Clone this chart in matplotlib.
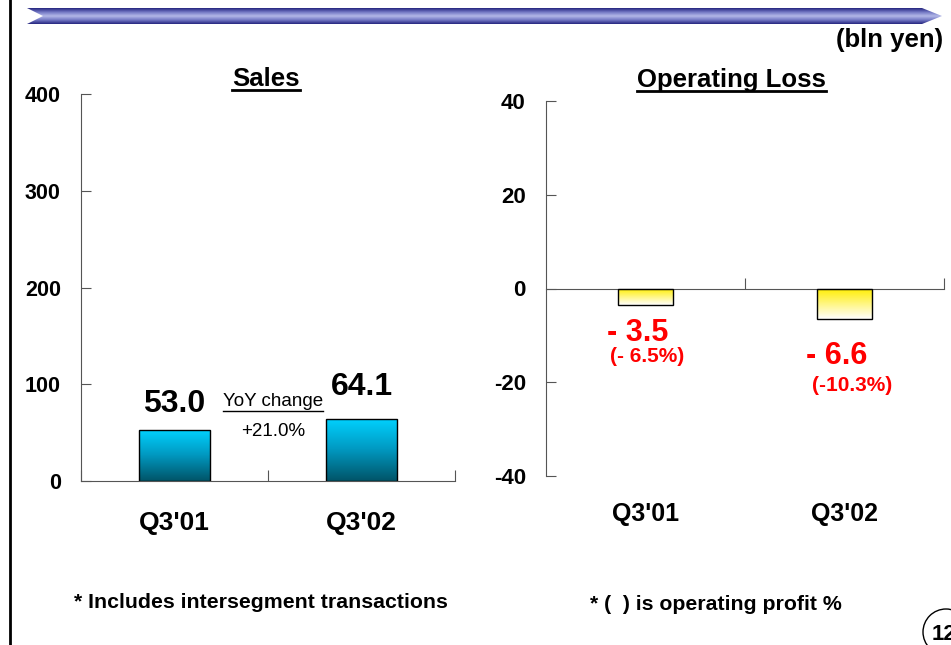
import numpy as np
import matplotlib.pyplot as plt
from matplotlib.patches import Polygon, Ellipse
from matplotlib.colors import LinearSegmentedColormap

plt.rcParams['font.family'] = ['Liberation Sans', 'DejaVu Sans']
plt.rcParams['axes.unicode_minus'] = False

# data
quarters = ["Q3'01", "Q3'02"]
sales = [53.0, 64.1]
sales_labels = ["53.0", "64.1"]
loss = [-3.5, -6.6]
loss_labels = ["- 3.5", "- 6.6"]
loss_pct = ["(- 6.5%)", "(-10.3%)"]
sales_ticks = [0, 100, 200, 300, 400]
loss_ticks = [-40, -20, 0, 20, 40]
yoy = "+21.0%"

W, H = 951, 645
fig = plt.figure(figsize=(W / 100, H / 100), dpi=100)

# background layer in pixel coords for decoration
bg = fig.add_axes([0, 0, 1, 1])
bg.set_xlim(0, W)
bg.set_ylim(H, 0)
bg.axis('off')

# left border line
bg.plot([10, 10], [0, H], color='black', lw=2)

# banner arrow with vertical gradient
banner = Polygon([(27, 8), (922, 8), (942, 16), (922, 24), (27, 24), (43, 16)],
                 closed=True, facecolor='none', edgecolor='none')
bg.add_patch(banner)
bcmap = LinearSegmentedColormap.from_list('b', ['#262680', '#7378c4', '#b4b9e8', '#7378c4', '#262680'])
grad = np.linspace(0, 1, 64).reshape(-1, 1)
im = bg.imshow(grad, cmap=bcmap, aspect='auto', extent=(27, 942, 24, 8), zorder=1)
im.set_clip_path(banner)
bg.set_xlim(0, W)
bg.set_ylim(H, 0)

bg.text(943, 40, "(bln yen)", ha='right', va='center', fontsize=18.5, fontweight='bold')

# footnotes
bg.text(261, 602, "* Includes intersegment transactions", ha='center', va='center',
        fontsize=15.3, fontweight='bold')
bg.text(716, 605, "* (  ) is operating profit %", ha='center', va='center',
        fontsize=15.3, fontweight='bold')

# page number
bg.add_patch(Ellipse((946, 632), 46, 46, facecolor='white', edgecolor='black', lw=1))
bg.text(932, 634, "12", ha='left', va='center', fontsize=16, fontweight='bold')


def gradient_bars(ax, bars, colors):
    cmap = LinearSegmentedColormap.from_list('g', colors)
    g = np.linspace(0, 1, 128).reshape(-1, 1)
    for b in bars:
        x0, y0 = b.get_x(), b.get_y()
        x1, y1 = x0 + b.get_width(), y0 + b.get_height()
        top, bot = max(y0, y1), min(y0, y1)
        img = ax.imshow(g, cmap=cmap, aspect='auto', extent=(x0, x1, bot, top),
                        origin='upper', zorder=2)
        img.set_clip_path(b)
        b.set_facecolor('none')
        b.set_zorder(3)


# ---- Sales ----
ax1 = fig.add_axes([81 / W, 1 - 481 / H, (455 - 81) / W, (481 - 94) / H])
x = np.arange(len(quarters))
b1 = ax1.bar(x, sales, width=0.38, edgecolor='black', linewidth=1)
gradient_bars(ax1, b1, ['#00d2ff', '#0098c0', '#005468'])
ax1.set_xlim(-0.5, 1.5)
ax1.set_ylim(0, 400)
ax1.set_yticks(sales_ticks)
ax1.set_xticks([-0.5, 0.5, 1.5])
ax1.set_xticklabels([])
ax1.tick_params(axis='y', direction='in', length=7, pad=14.5, labelsize=15.5, color='#555555')
ax1.tick_params(axis='x', direction='in', length=8, color='#555555')
for t in ax1.get_yticklabels():
    t.set_fontweight('bold')
ax1.spines['top'].set_visible(False)
ax1.spines['right'].set_visible(False)
ax1.spines['left'].set_color('#555555')
ax1.spines['bottom'].set_color('#555555')
ax1.set_title("Sales", fontsize=18.5, fontweight='bold', pad=6)
ax1.title.set_position((0.495, 1.0))
trans1 = ax1.get_xaxis_transform()
for i, q in enumerate(quarters):
    ax1.text(x[i], -0.108, q, transform=trans1, ha='center', va='center',
             fontsize=19, fontweight='bold')
ax1.text(x[0], sales[0] + 27, sales_labels[0], ha='center', va='center',
         fontsize=23, fontweight='bold')
ax1.text(x[1], sales[1] + 33, sales_labels[1], ha='center', va='center',
         fontsize=23, fontweight='bold')
ax1.text(0.527, 82, "YoY change", ha='center', va='center', fontsize=13.5)
ax1.plot([0.26, 0.795], [72.5, 72.5], color='black', lw=1, clip_on=False)
ax1.text(0.527, 51, yoy, ha='center', va='center', fontsize=13.5)

# ---- Operating Loss ----
ax2 = fig.add_axes([546 / W, 1 - 476 / H, (944 - 546) / W, (476 - 101) / H])
b2 = ax2.bar(x, loss, width=0.28, edgecolor='black', linewidth=1)
gradient_bars(ax2, b2, ['#ffee00', '#fff680', '#ffffff'])
ax2.set_xlim(-0.5, 1.5)
ax2.set_ylim(-40, 40)
ax2.set_yticks(loss_ticks)
ax2.set_xticks([0.5, 1.5])
ax2.set_xticklabels([])
ax2.spines['bottom'].set_position(('data', 0))
ax2.spines['top'].set_visible(False)
ax2.spines['right'].set_visible(False)
ax2.spines['left'].set_color('#555555')
ax2.spines['bottom'].set_color('#555555')
ax2.tick_params(axis='y', direction='in', length=7, pad=14.5, labelsize=16, color='#555555')
ax2.tick_params(axis='x', direction='in', length=8, color='#555555')
for t in ax2.get_yticklabels():
    t.set_fontweight('bold')
ax2.set_title("Operating Loss", fontsize=18.5, fontweight='bold', pad=10)
ax2.title.set_position((0.465, 1.0))
trans2 = ax2.get_xaxis_transform()
for i, q in enumerate(quarters):
    ax2.text(x[i], -0.101, q, transform=trans2, ha='center', va='center',
             fontsize=18, fontweight='bold')
ax2.text(-0.04, -9.5, loss_labels[0], ha='center', va='center', fontsize=22,
         fontweight='bold', color='red')
ax2.text(0.01, -14.4, loss_pct[0], ha='center', va='center', fontsize=15,
         fontweight='bold', color='red')
ax2.text(0.96, -14.5, loss_labels[1], ha='center', va='center', fontsize=22,
         fontweight='bold', color='red')
ax2.text(1.04, -20.6, loss_pct[1], ha='center', va='center', fontsize=15,
         fontweight='bold', color='red')

# underline titles
fig.canvas.draw()
r = fig.canvas.get_renderer()
for ax in (ax1, ax2):
    bb = ax.title.get_window_extent(r)
    y = bb.y0 + 1
    fig.add_artist(plt.Line2D([bb.x0 / W, bb.x1 / W], [y / H, y / H], color='black', lw=2))

fig.savefig("out.png", dpi=100)
